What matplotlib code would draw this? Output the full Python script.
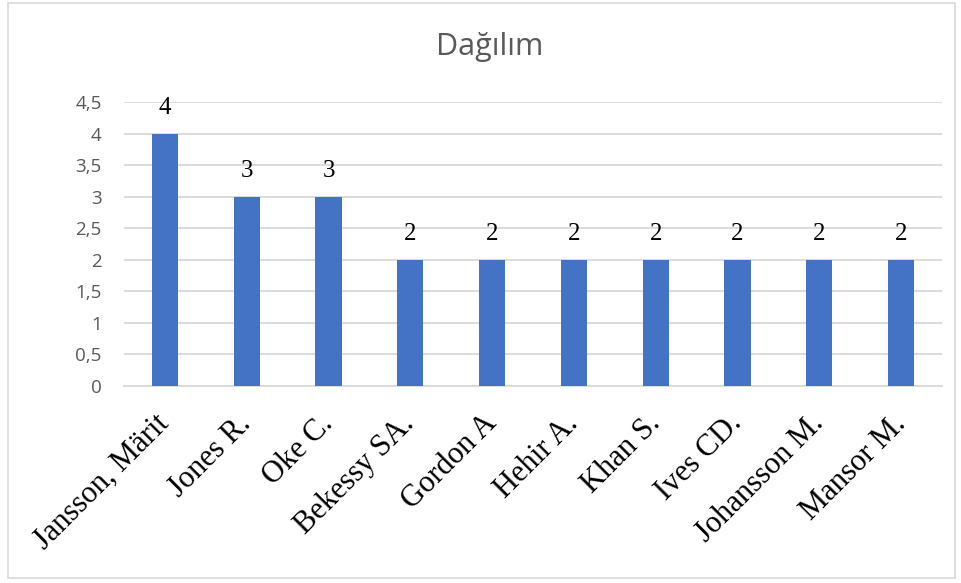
import matplotlib
matplotlib.use("Agg")
import matplotlib.pyplot as plt
from matplotlib.patches import Rectangle

names = ["Jansson, Märit", "Jones R.", "Oke C.", "Bekessy SA.", "Gordon A",
         "Hehir A.", "Khan S.", "Ives CD.", "Johansson M.", "Mansor M."]
counts = [4, 3, 3, 2, 2, 2, 2, 2, 2, 2]
yticks = [0, 0.5, 1, 1.5, 2, 2.5, 3, 3.5, 4, 4.5]
ytick_labels = ["0", "0,5", "1", "1,5", "2", "2,5", "3", "3,5", "4", "4,5"]
title = "Dağılım"

fig = plt.figure(figsize=(9.62, 5.83), dpi=100)
fig.patch.set_facecolor("white")
fig.patches.append(Rectangle((8 / 962, 1 - 578 / 583), 947 / 962, 575 / 583,
                             transform=fig.transFigure, fill=False,
                             edgecolor="#d9d9d9", linewidth=1.2))

ax = fig.add_axes([124 / 962, 1 - 386 / 583, 818 / 962, 284 / 583])
x = list(range(len(names)))
bars = ax.bar(x, counts, width=0.32, color="#4472c4", zorder=3)
ax.set_xlim(-0.5, len(names) - 0.5)
ax.set_ylim(0, 4.5)
ax.set_yticks(yticks)
ax.set_yticklabels(ytick_labels, fontsize=13.5, color="#595959", family="Open Sans")
ax.tick_params(axis="y", length=0, pad=16)
ax.grid(axis="y", color="#d9d9d9", linewidth=1.3, zorder=0)
for s in ["top", "right", "left"]:
    ax.spines[s].set_visible(False)
ax.spines["bottom"].set_color("#d9d9d9")
ax.spines["bottom"].set_linewidth(1.3)

ax.set_xticks(x)
ax.set_xticklabels(names, rotation=45, ha="right", va="center", rotation_mode="anchor",
                   fontsize=22, family="Liberation Serif", color="black")
ax.tick_params(axis="x", length=0, pad=24)

for xi, v in zip(x, counts):
    ax.annotate(str(v), (xi, v), xytext=(0, 14), textcoords="offset points",
                ha="center", va="baseline", fontsize=18, family="Liberation Serif")

fig.text(490 / 962, 1 - 47 / 583, title, ha="center", va="center",
         fontsize=22, color="#595959", family="Open Sans")

fig.savefig("out.png", dpi=100)
